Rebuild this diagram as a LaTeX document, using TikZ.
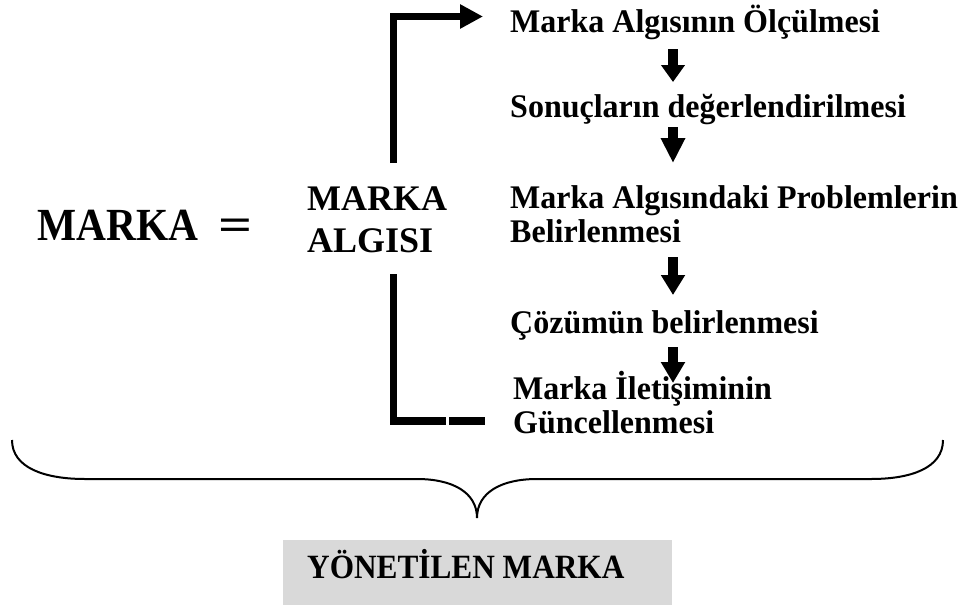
\documentclass[tikz,border=0pt]{standalone}
\usepackage{fontspec}
\setmainfont{Liberation Serif}
\usetikzlibrary{arrows.meta}
\definecolor{boxgray}{RGB}{217,217,217}
\newcommand{\nx}[1]{\scalebox{0.97}[1]{#1}}
\begin{document}
\begin{tikzpicture}[x=1pt,y=-1pt,
  txt/.style={anchor=base west, inner sep=0pt, font=\fontsize{33}{34}\selectfont\bfseries, align=left},
  brk/.style={line width=7.5pt, line join=miter},
  darr/.style={line width=10pt, -{Triangle[width=23pt,length=#1]}},
  darr/.default=20pt,
  bracestyle/.style={line width=2pt},
  graybox/.style={fill=boxgray, inner sep=0pt, minimum width=389pt, minimum height=65pt}
]
\useasboundingbox (0,0) rectangle (964,608);

% right column (base anchor = last line)
\node[txt] (t1) at (510,32) {\nx{Marka Algısının Ölçülmesi}};
\node[txt] (t2) at (510,117) {\nx{Sonuçların değerlendirilmesi}};
\node[txt] (t3) at (510,242) {\nx{Marka Algısındaki Problemlerin}\\\nx{Belirlenmesi}};
\node[txt] (t4) at (510,333) {\nx{Çözümün belirlenmesi}};
\node[txt] (t5) at (513,433) {\nx{Marka İletişiminin}\\\nx{Güncellenmesi}};

% left
\node[anchor=base west, inner sep=0pt, font=\fontsize{46}{46}\selectfont\bfseries] (mk) at (37,240) {\scalebox{0.9}[1]{MARKA}};
\node[anchor=base west, inner sep=0pt, font=\fontsize{46}{46}\selectfont\bfseries] (eq) at (218,240) {\scalebox{1.3}[1]{=}};
\node[anchor=base west, inner sep=0pt, font=\fontsize{36}{42}\selectfont\bfseries, align=left] (ma) at (307,252) {MARKA\\ALGISI};

% down arrows
\coordinate (ax) at (673,0);
\draw[darr=17pt] ([yshift=-17pt]t1.base -| ax) -- ([yshift=35pt]t2.base -| ax);
\draw[darr=25pt] ([yshift=-10pt]t2.base -| ax) -- ([yshift=79pt]t3.base -| ax);
\draw[darr=20pt] ([yshift=-15pt]t3.base -| ax) -- ([yshift=38pt]t4.base -| ax);
\draw[darr=21pt] ([yshift=-14pt]t4.base -| ax) -- ([yshift=50pt]t5.base -| ax);

% bracket
\coordinate (u0) at (393.5,163);
\coordinate (u1) at (393.5,16.5);
\coordinate (u2) at (483,16.5);
\draw[brk, -{Triangle[width=23pt,length=23pt]}] (u0) -- (u1) -- (u2);
\coordinate (l0) at (393.5,274);
\coordinate (l1) at (446,421);
\coordinate (l2) at (449,421);
\coordinate (l3) at (485,421);
\draw[brk] (l0) |- (l1);
\draw[brk] (l2) -- (l3);

% brace
\draw[bracestyle] (12,440) .. controls (12,468) and (45,479) .. (85,479) -- (417,479)
  .. controls (452,479) and (477,492) .. (477,518)
  .. controls (477,492) and (502,479) .. (537,479) -- (871,479)
  .. controls (911,479) and (943,468) .. (943,440);

% result box
\node[graybox] (box) at (477.5,572.5) {};
\node[anchor=base west, inner sep=0pt, font=\fontsize{34}{40}\selectfont\bfseries] (bt) at (307,578) {\scalebox{0.92}[1]{YÖNETİLEN MARKA}};
\end{tikzpicture}
\end{document}
